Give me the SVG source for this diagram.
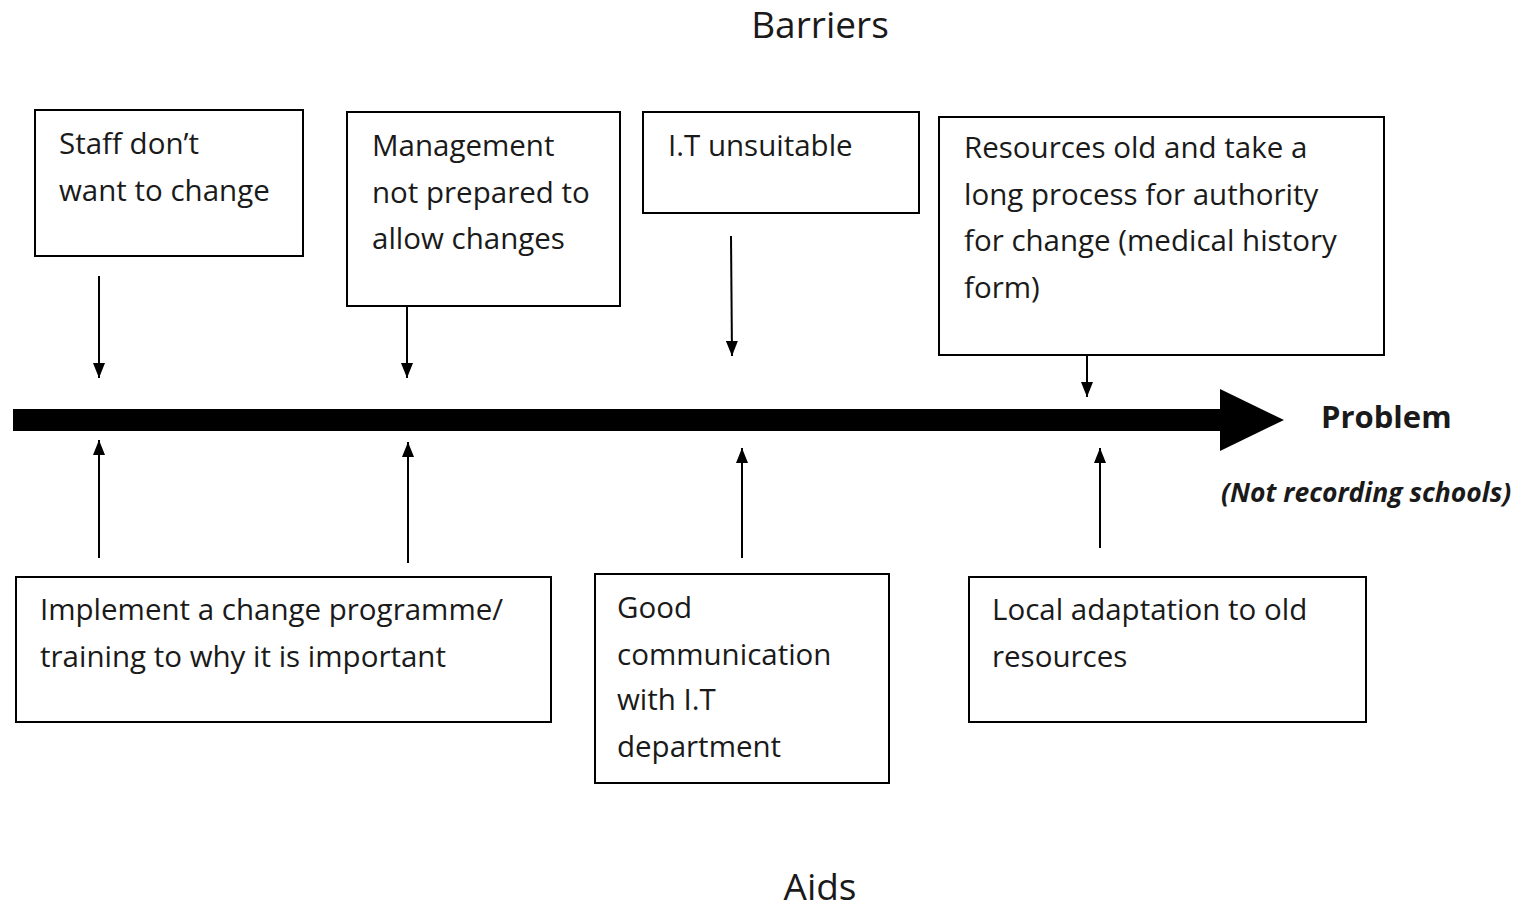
<svg xmlns="http://www.w3.org/2000/svg" width="1522" height="908" viewBox="0 0 1522 908">
  <style>
    .box { fill: #ffffff; stroke: #000000; stroke-width: 2; }
    .t { font-family: "Open Sans", "Noto Sans", sans-serif; font-size: 29.5px; fill: #1a1a1a; }
    .head { font-family: "Open Sans", "Noto Sans", sans-serif; font-size: 37px; fill: #1a1a1a; text-anchor: middle; }
    .link { stroke: #000000; stroke-width: 2; fill: none; }
  </style>
  <defs>
    <marker id="tip" viewBox="0 0 15 12" refX="15" refY="6" markerWidth="15" markerHeight="12" markerUnits="userSpaceOnUse" orient="auto">
      <path d="M0,0 L15,6 L0,12 Z" fill="#000"/>
    </marker>
  </defs>

  <rect width="1522" height="908" fill="#ffffff"/>

  <text class="head" x="820" y="38">Barriers</text>
  <text class="head" x="820" y="900">Aids</text>

  <!-- main timeline arrow -->
  <g id="timeline">
    <rect x="13" y="409" width="1208" height="22" fill="#000"/>
    <path d="M1220,389 L1284,420 L1220,451 Z" fill="#000"/>
  </g>

  <g id="problem">
    <text x="1321" y="428" font-family="'Open Sans', 'Noto Sans', sans-serif" font-size="31" font-weight="bold" fill="#1a1a1a">Problem</text>
    <text x="1221" y="502" font-family="'Open Sans', 'Noto Sans', sans-serif" font-size="26.5" font-weight="bold" font-style="italic" fill="#1a1a1a">(Not recording schools)</text>
  </g>

  <!-- barrier nodes -->
  <g id="barrier-staff">
    <rect class="box" x="35" y="110" width="268" height="146"/>
    <text class="t" x="59" y="154">Staff don’t</text>
    <text class="t" x="59" y="201">want to change</text>
  </g>
  <g id="barrier-management">
    <rect class="box" x="347" y="112" width="273" height="194"/>
    <text class="t" x="372" y="156">Management</text>
    <text class="t" x="372" y="203">not prepared to</text>
    <text class="t" x="372" y="249">allow changes</text>
  </g>
  <g id="barrier-it">
    <rect class="box" x="643" y="112" width="276" height="101"/>
    <text class="t" x="668" y="156">I.T unsuitable</text>
  </g>
  <g id="barrier-resources">
    <rect class="box" x="939" y="117" width="445" height="238"/>
    <text class="t" x="964" y="158">Resources old and take a</text>
    <text class="t" x="964" y="205">long process for authority</text>
    <text class="t" x="964" y="251">for change (medical history</text>
    <text class="t" x="964" y="298">form)</text>
  </g>

  <!-- aid nodes -->
  <g id="aid-programme">
    <rect class="box" x="16" y="577" width="535" height="145"/>
    <text class="t" x="40" y="620">Implement a change programme/</text>
    <text class="t" x="40" y="667">training to why it is important</text>
  </g>
  <g id="aid-communication">
    <rect class="box" x="595" y="574" width="294" height="209"/>
    <text class="t" x="617" y="618">Good</text>
    <text class="t" x="617" y="665">communication</text>
    <text class="t" x="617" y="710">with I.T</text>
    <text class="t" x="617" y="757">department</text>
  </g>
  <g id="aid-adaptation">
    <rect class="box" x="969" y="577" width="397" height="145"/>
    <text class="t" x="992" y="620">Local adaptation to old</text>
    <text class="t" x="992" y="667">resources</text>
  </g>

  <!-- connectors -->
  <g id="connectors">
    <line class="link" x1="99" y1="276" x2="99" y2="378" marker-end="url(#tip)"/>
    <line class="link" x1="407" y1="306" x2="407" y2="378" marker-end="url(#tip)"/>
    <line class="link" x1="731" y1="236" x2="732" y2="356" marker-end="url(#tip)"/>
    <line class="link" x1="1087" y1="355" x2="1087" y2="397" marker-end="url(#tip)"/>
    <line class="link" x1="99" y1="558" x2="99" y2="440" marker-end="url(#tip)"/>
    <line class="link" x1="408" y1="563" x2="408" y2="442" marker-end="url(#tip)"/>
    <line class="link" x1="742" y1="558" x2="742" y2="448" marker-end="url(#tip)"/>
    <line class="link" x1="1100" y1="548" x2="1100" y2="448" marker-end="url(#tip)"/>
  </g>
</svg>
